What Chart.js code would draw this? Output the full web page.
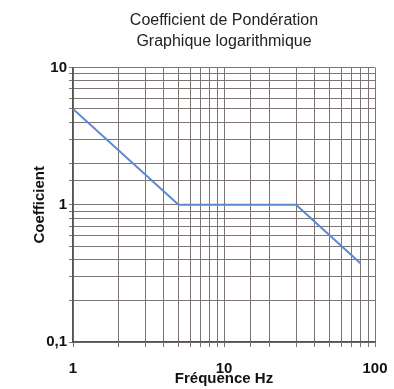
<!DOCTYPE html>
<html>
<head>
<meta charset="utf-8">
<script src="https://cdn.jsdelivr.net/npm/chart.js@4/dist/chart.umd.min.js"></script>
<style>
  html, body { margin: 0; padding: 0; background: #fff; }
  #wrap { width: 394px; height: 389px; }
</style>
</head>
<body>
<div id="wrap"><canvas id="graphique"></canvas></div>
<script>
// Données
const frequences = [1, 5, 30, 80];
const coefficients = [5, 1, 1, 0.375];
const titre = ['Coefficient de Pondération', 'Graphique logarithmique'];
const titreX = 'Fréquence Hz';
const titreY = 'Coefficient';

const couleurGrille = '#7d7474';
const couleurLigne = '#5b8ad2';
const police = 'Liberation Sans, Arial, sans-serif';

function estDecade(v) {
    const l = Math.log10(v);
    return Math.abs(l - Math.round(l)) < 1e-9;
}

function etiquette(v) {
    return estDecade(v) ? String(v).replace('.', ',') : '';
}

const points = frequences.map((f, i) => ({ x: f, y: coefficients[i] }));

new Chart(document.getElementById('graphique'), {
    type: 'line',
    data: {
        datasets: [{
            data: points,
            borderColor: couleurLigne,
            borderWidth: 2,
            pointRadius: 0,
            tension: 0,
            fill: false
        }]
    },
    options: {
        responsive: true,
        maintainAspectRatio: false,
        animation: false,
        layout: { padding: { right: 19, left: 0, bottom: 0, top: 0 } },
        plugins: {
            legend: { display: false },
            tooltip: { enabled: false },
            title: {
                display: true,
                text: titre,
                fullSize: false,
                color: '#222',
                font: { family: police, size: 16, weight: 'normal', lineHeight: 1.3 },
                padding: { top: 10, bottom: 16 }
            }
        },
        scales: {
            x: {
                type: 'logarithmic',
                min: 1,
                max: 100,
                afterFit: s => {
                    s.height = 47;
                    s.paddingLeft = 0;
                    s.paddingRight = 0;
                },
                grid: { color: couleurGrille, lineWidth: 1, tickLength: 5 },
                border: { color: '#555', width: 1.5 },
                ticks: {
                    autoSkip: false,
                    maxRotation: 0,
                    padding: 13,
                    color: '#111',
                    font: { family: police, size: 15, weight: 'bold' },
                    callback: v => etiquette(v)
                },
                title: {
                    display: true,
                    text: titreX,
                    color: '#111',
                    font: { family: police, size: 15, weight: 'bold' },
                    padding: { top: 0, bottom: 1 }
                }
            },
            y: {
                type: 'logarithmic',
                min: 0.1,
                max: 10,
                afterFit: s => {
                    s.width = 73;
                    s.paddingTop = 0;
                    s.paddingBottom = 0;
                },
                grid: { color: couleurGrille, lineWidth: 1, tickLength: 4 },
                border: { color: '#555', width: 1.5 },
                ticks: {
                    autoSkip: false,
                    padding: 2,
                    color: '#111',
                    font: { family: police, size: 15, weight: 'bold' },
                    callback: v => etiquette(v)
                },
                title: {
                    display: true,
                    text: titreY,
                    color: '#111',
                    font: { family: police, size: 15, weight: 'bold' },
                    padding: { top: 31, bottom: 0 }
                }
            }
        }
    }
});
</script>
</body>
</html>
